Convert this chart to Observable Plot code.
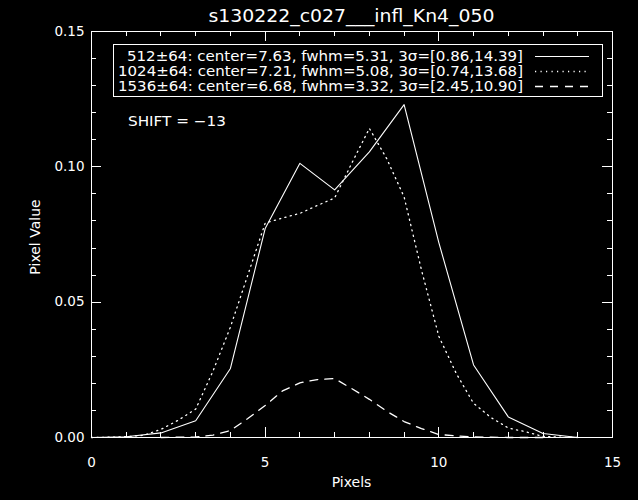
<!DOCTYPE html>
<html><head><meta charset="utf-8">
<script src="https://cdn.jsdelivr.net/npm/d3@7"></script>
<script src="https://cdn.jsdelivr.net/npm/@observablehq/plot@0.6"></script>
<style>
html,body{margin:0;padding:0;background:#000;}
#chart{width:638px;height:500px;}
</style>
</head><body><div id="chart"></div>
<script>
// ---- text ----
const titleText = "s130222_c027___infl_Kn4_050";
const xLabel = "Pixels";
const yLabel = "Pixel Value";
const shiftText = "SHIFT = \u221213";
const legendLabels = [
  "512\u00b164: center=7.63, fwhm=5.31, 3\u03c3=[0.86,14.39]",
  "1024\u00b164: center=7.21, fwhm=5.08, 3\u03c3=[0.74,13.68]",
  "1536\u00b164: center=6.68, fwhm=3.32, 3\u03c3=[2.45,10.90]"
];
const legendDash = ["none", "1.2,4.3", "8,7"];

// ---- ticks ----
const xTicks = [0, 5, 10, 15];
const xMinor = [1, 2, 3, 4, 6, 7, 8, 9, 11, 12, 13, 14];
const yTicks = [0, 0.05, 0.10, 0.15];
const yMinor = [0.01, 0.02, 0.03, 0.04, 0.06, 0.07, 0.08, 0.09, 0.11, 0.12, 0.13, 0.14];

// ---- series 512±64 (solid) ----
const s512X = [0, 1, 2, 3, 4, 5, 6, 7, 8, 9, 10, 11, 12, 13, 14];
const s512Y = [0.0000, 0.0003, 0.0017, 0.0062, 0.0255, 0.0772, 0.1013, 0.0915, 0.1055, 0.1230, 0.0720, 0.0268, 0.0076, 0.0015, 0.0000];

// ---- series 1024±64 (dotted) ----
const s1024X = [0, 0.5, 1, 1.5, 2, 2.5, 3, 3.5, 4, 4.5, 5, 5.5, 6, 6.5, 7, 7.5, 8, 8.5, 9, 9.5, 10, 10.5, 11, 11.5, 12, 12.5, 13, 13.5, 14];
const s1024Y = [0.0000, 0.0001, 0.0003, 0.0008, 0.0030, 0.0064, 0.0105, 0.0246, 0.0408, 0.0600, 0.0792, 0.0811, 0.0828, 0.0857, 0.0885, 0.1015, 0.1142, 0.1030, 0.0889, 0.0619, 0.0374, 0.0237, 0.0126, 0.0074, 0.0035, 0.0021, 0.0004, 0.0001, 0.0000];

// ---- series 1536±64 (dashed) ----
const s1536X = [2, 2.5, 3, 3.5, 4, 4.5, 5, 5.5, 6, 6.5, 7, 7.5, 8, 8.5, 9, 9.5, 10, 10.5, 11, 11.5, 12, 12.5, 13];
const s1536Y = [0.0000, 0.0001, 0.0002, 0.0009, 0.0026, 0.0070, 0.0118, 0.0172, 0.0202, 0.0214, 0.0218, 0.0180, 0.0141, 0.0097, 0.0059, 0.0033, 0.0011, 0.0006, 0.0002, 0.0001, 0.0000, 0.0000, 0.0000];

const zip = (xs, ys) => xs.map((x, i) => ({x, y: ys[i]}));
const d512 = zip(s512X, s512Y);
const d1024 = zip(s1024X, s1024Y);
const d1536 = zip(s1536X, s1536Y);

// ---- layout ----
const W = 638, H = 500, ML = 91, MR = 26, MT = 31, MB = 63;
const FW = W - ML - MR, FH = H - MT - MB;
const MAJ = 10, MIN = 5;
const FONT = "DejaVu Sans, Liberation Sans, sans-serif";

const plot = Plot.plot({
  width: W, height: H,
  marginLeft: ML, marginRight: MR, marginTop: MT, marginBottom: MB,
  style: {background: "#000", color: "#fff", fontFamily: FONT, fontSize: "13.5px"},
  x: {domain: [0, 15], ticks: xTicks, tickSize: 0, tickPadding: 20, tickFormat: d => String(d), label: null},
  y: {domain: [0, 0.15], ticks: yTicks, tickSize: 0, tickPadding: 7, tickFormat: d3.format(".2f"), label: null},
  marks: [
    Plot.frame({stroke: "#fff", strokeWidth: 1, shapeRendering: "crispEdges"}),
    // bottom / top ticks
    Plot.ruleX(xTicks, {x: d => d, stroke: "#fff", insetTop: FH - MAJ, shapeRendering: "crispEdges"}),
    Plot.ruleX(xMinor, {x: d => d, stroke: "#fff", insetTop: FH - MIN, shapeRendering: "crispEdges"}),
    Plot.ruleX(xTicks, {x: d => d, stroke: "#fff", insetBottom: FH - MAJ, shapeRendering: "crispEdges"}),
    Plot.ruleX(xMinor, {x: d => d, stroke: "#fff", insetBottom: FH - MIN, shapeRendering: "crispEdges"}),
    // left / right ticks
    Plot.ruleY(yTicks, {y: d => d, stroke: "#fff", insetRight: FW - MAJ, shapeRendering: "crispEdges"}),
    Plot.ruleY(yMinor, {y: d => d, stroke: "#fff", insetRight: FW - MIN, shapeRendering: "crispEdges"}),
    Plot.ruleY(yTicks, {y: d => d, stroke: "#fff", insetLeft: FW - MAJ, shapeRendering: "crispEdges"}),
    Plot.ruleY(yMinor, {y: d => d, stroke: "#fff", insetLeft: FW - MIN, shapeRendering: "crispEdges"}),
    // series
    Plot.line(d512, {x: "x", y: "y", stroke: "#fff", strokeWidth: 1.1}),
    Plot.line(d1024, {x: "x", y: "y", stroke: "#fff", strokeWidth: 1.3, strokeDasharray: legendDash[1]}),
    Plot.line(d1536, {x: "x", y: "y", stroke: "#fff", strokeWidth: 1.3, strokeDasharray: legendDash[2]})
  ]
});
document.getElementById("chart").appendChild(plot);

// ---- annotations (pixel layout) ----
const svg = d3.select(plot);
const txt = (x, y, s, size, anchor, len) => {
  const t = svg.append("text").attr("x", x).attr("y", y).attr("fill", "#fff")
    .attr("font-family", FONT).attr("font-size", size).attr("text-anchor", anchor)
    .attr("dominant-baseline", "central").text(s);
  if (len) t.attr("textLength", len).attr("lengthAdjust", "spacingAndGlyphs");
  return t;
};
txt(ML + FW / 2, 16, titleText, 17, "middle", 286);
txt(ML + FW / 2, 482, xLabel, 14, "middle");
txt(0, 0, yLabel, 14, "middle").attr("transform", `translate(35,${MT + FH / 2 + 3}) rotate(-90)`);
txt(128, 121, shiftText, 14, "start", 98);

// legend box
svg.append("rect").attr("x", 113.5).attr("y", 44.5).attr("width", 489).attr("height", 52)
  .attr("fill", "none").attr("stroke", "#fff").attr("stroke-width", 1).attr("shape-rendering", "crispEdges");
const rows = [56, 71, 86];
legendLabels.forEach((s, i) => {
  txt(523, rows[i], s, 14.5, "end", i === 0 ? 396 : 405);
  svg.append("line").attr("x1", 535).attr("x2", 589).attr("y1", rows[i] + 0.5).attr("y2", rows[i] + 0.5)
    .attr("stroke", "#fff").attr("stroke-width", i === 0 ? 1.1 : 1.3)
    .attr("stroke-dasharray", legendDash[i] === "none" ? null : legendDash[i]);
});
</script>
</body></html>
